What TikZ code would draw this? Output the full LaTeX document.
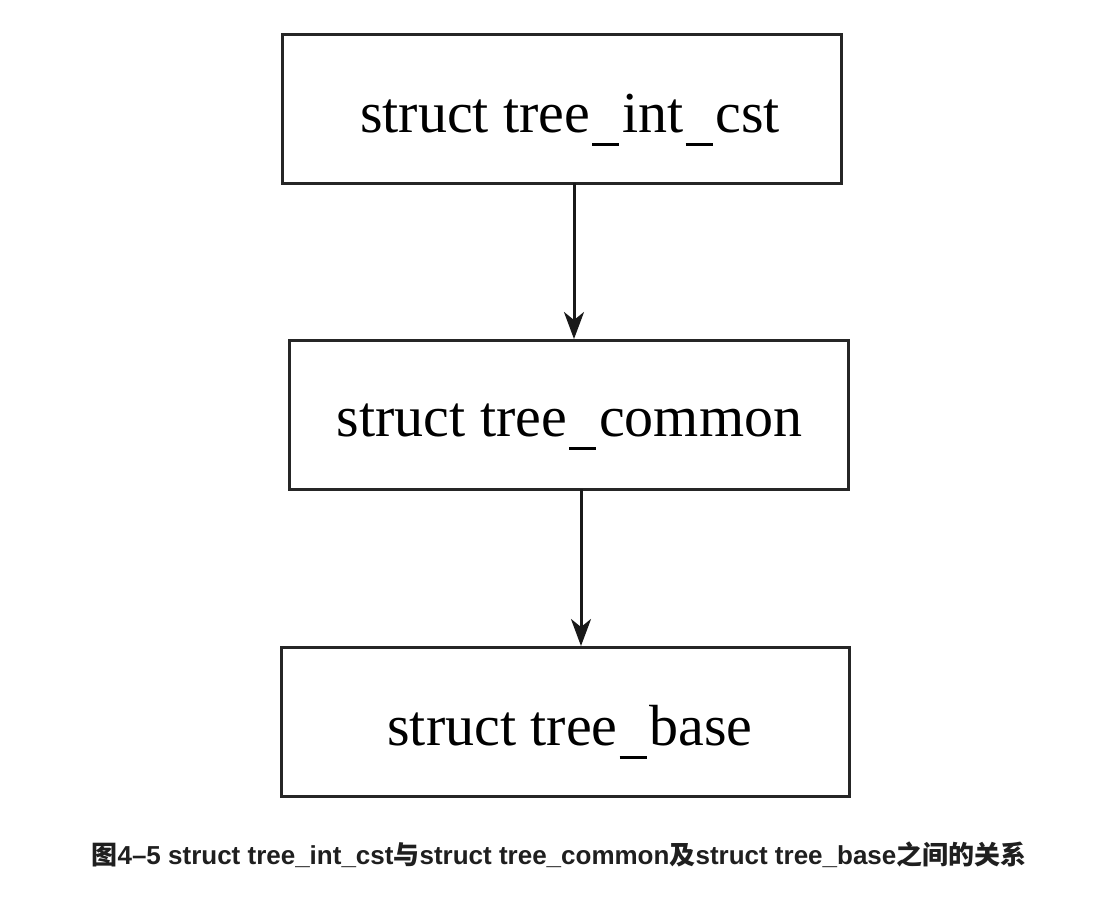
\documentclass[tikz,border=0pt]{standalone}
\usepackage{fontspec}
\setmainfont{Liberation Serif}
\newfontfamily\cjk{Noto Sans CJK SC}
\newfontfamily\lsans{Liberation Sans}
\newcommand\myus{\kern2pt\rule[-14pt]{27pt}{3pt}\kern3pt}
\usetikzlibrary{arrows.meta}
\begin{document}
\begin{tikzpicture}[x=1pt,y=-1pt,
  boxnode/.style={draw=black!85,line width=3pt,inner sep=0pt},
  lbl/.style={font=\fontsize{58}{60}\selectfont,inner sep=0pt,anchor=base},
  conn/.style={draw=black!90,line width=3pt,-{Stealth[length=27pt,width=20pt,inset=8pt]}}]
\useasboundingbox (0,0) rectangle (1100,898);
\node[boxnode,minimum width=559pt,minimum height=149pt] (b1) at (561.5,108.5) {};
\node[boxnode,minimum width=559pt,minimum height=149pt] (b2) at (568.5,414.5) {};
\node[boxnode,minimum width=568pt,minimum height=149pt] (b3) at (565,721.5) {};
\node[lbl] (t1) at (570,132) {struct tree\myus int\myus cst};
\node[lbl] (t2) at (569.5,436) {struct tree\myus common};
\node[lbl] (t3) at (570,745) {struct tree\myus base};
\coordinate (a1s) at (574,183);
\coordinate (a1e) at (574,339);
\coordinate (a2s) at (581,489);
\coordinate (a2e) at (581,646);
\draw[conn] (a1s) -- (a1e);
\draw[conn] (a2s) -- (a2e);
\node[font=\bfseries\fontsize{26}{28}\selectfont,inner sep=0pt,text=black!88] (cap) at (559,855) {{\cjk 图}\lsans 4–5 struct tree\_int\_cst{\cjk 与}struct tree\_common{\cjk 及}struct tree\_base{\cjk 之间的关系}};
\end{tikzpicture}
\end{document}
